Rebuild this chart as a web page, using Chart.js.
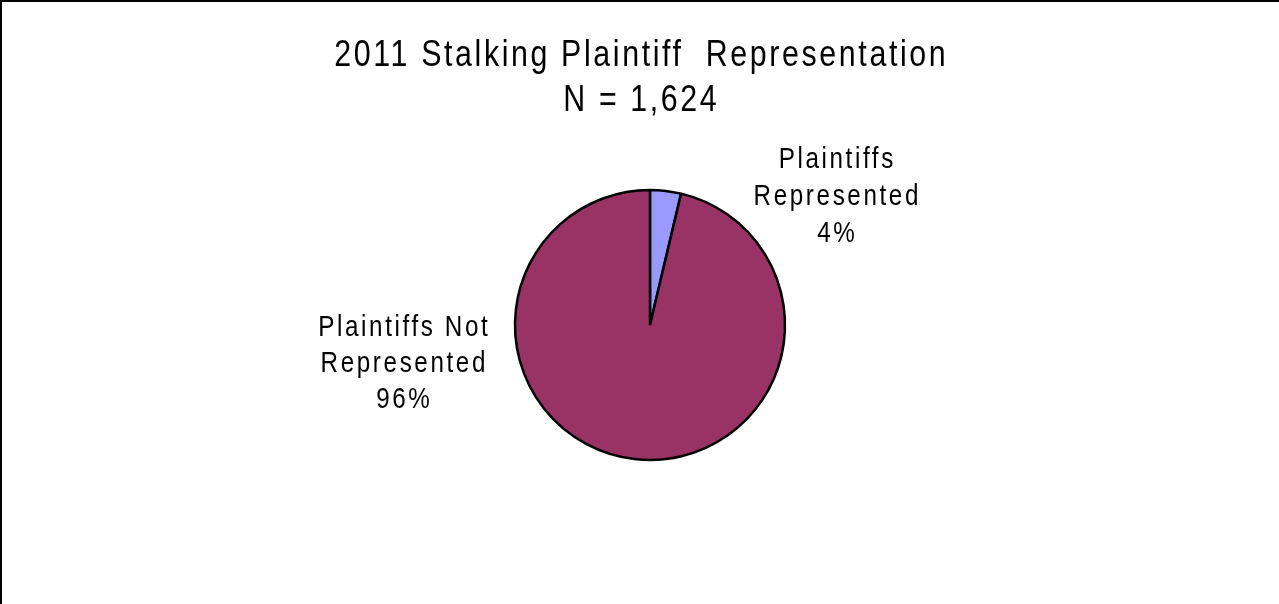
<!DOCTYPE html>
<html>
<head>
<meta charset="utf-8">
<script src="https://cdn.jsdelivr.net/npm/chart.js@4.4.1/dist/chart.umd.min.js"></script>
<style>
  html, body { margin: 0; padding: 0; background: #ffffff; }
  #wrap { position: relative; width: 1279px; height: 604px; box-sizing: border-box;
          border-top: 2px solid #000; border-left: 2px solid #000; }
  canvas { display: block; }
</style>
</head>
<body>
<div id="wrap"><canvas id="c" width="1277" height="602"></canvas></div>
<script>
// ---- data ----
const categories = ["Plaintiffs Represented", "Plaintiffs Not Represented"];
const values = [3.7, 96.3];
const labelLines = [["Plaintiffs", "Represented"], ["Plaintiffs Not", "Represented"]];
const sliceColors = ["#9999FF", "#993366"];
const titleLines = ["2011 Stalking Plaintiff  Representation", "N = 1,624"];

const FONT = '"Liberation Sans", Arial, sans-serif';
const NARROW = 0.82;

function narrowText(ctx, text, x, y, spacing) {
  ctx.save();
  ctx.translate(x, y);
  ctx.scale(NARROW, 1);
  ctx.letterSpacing = spacing + 'px';
  // compensate trailing spacing so text stays centred
  ctx.fillText(text, spacing / 2, 0);
  ctx.restore();
}

const textPlugin = {
  id: 'textPlugin',
  afterDraw(chart) {
    const ctx = chart.ctx;
    ctx.save();
    ctx.fillStyle = '#000';
    ctx.textAlign = 'center';
    ctx.textBaseline = 'alphabetic';
    // title
    ctx.font = '37px ' + FONT;
    narrowText(ctx, titleLines[0], 638, 64, 3.2);
    narrowText(ctx, titleLines[1], 638, 109, 3.2);
    // data labels, positioned relative to the arc geometry
    const meta = chart.getDatasetMeta(0);
    const arc0 = meta.data[0];
    const cx = arc0.x, cy = arc0.y;
    const total = values.reduce((a, b) => a + b, 0);
    const offsets = [[186, -157], [-247, 11]];
    const spacingY = [36.8, 35.8];
    ctx.font = '29.5px ' + FONT;
    for (let i = 0; i < values.length; i++) {
      const pct = Math.round(values[i] / total * 100) + '%';
      const lines = labelLines[i].concat([pct]);
      const x = cx + offsets[i][0];
      const y = cy + offsets[i][1];
      lines.forEach((ln, k) => narrowText(ctx, ln, x, y + k * spacingY[i], 3.2));
    }
    ctx.restore();
  }
};

new Chart(document.getElementById('c'), {
  type: 'pie',
  data: {
    labels: categories,
    datasets: [{
      data: values,
      backgroundColor: sliceColors,
      borderColor: '#000000',
      borderWidth: 2.5
    }]
  },
  options: {
    responsive: false,
    animation: false,
    radius: 135,
    layout: { padding: { left: 160, right: 141, top: 144, bottom: 100 } },
    plugins: {
      legend: { display: false },
      tooltip: { enabled: false },
      title: { display: false }
    }
  },
  plugins: [textPlugin]
});
</script>
</body>
</html>
